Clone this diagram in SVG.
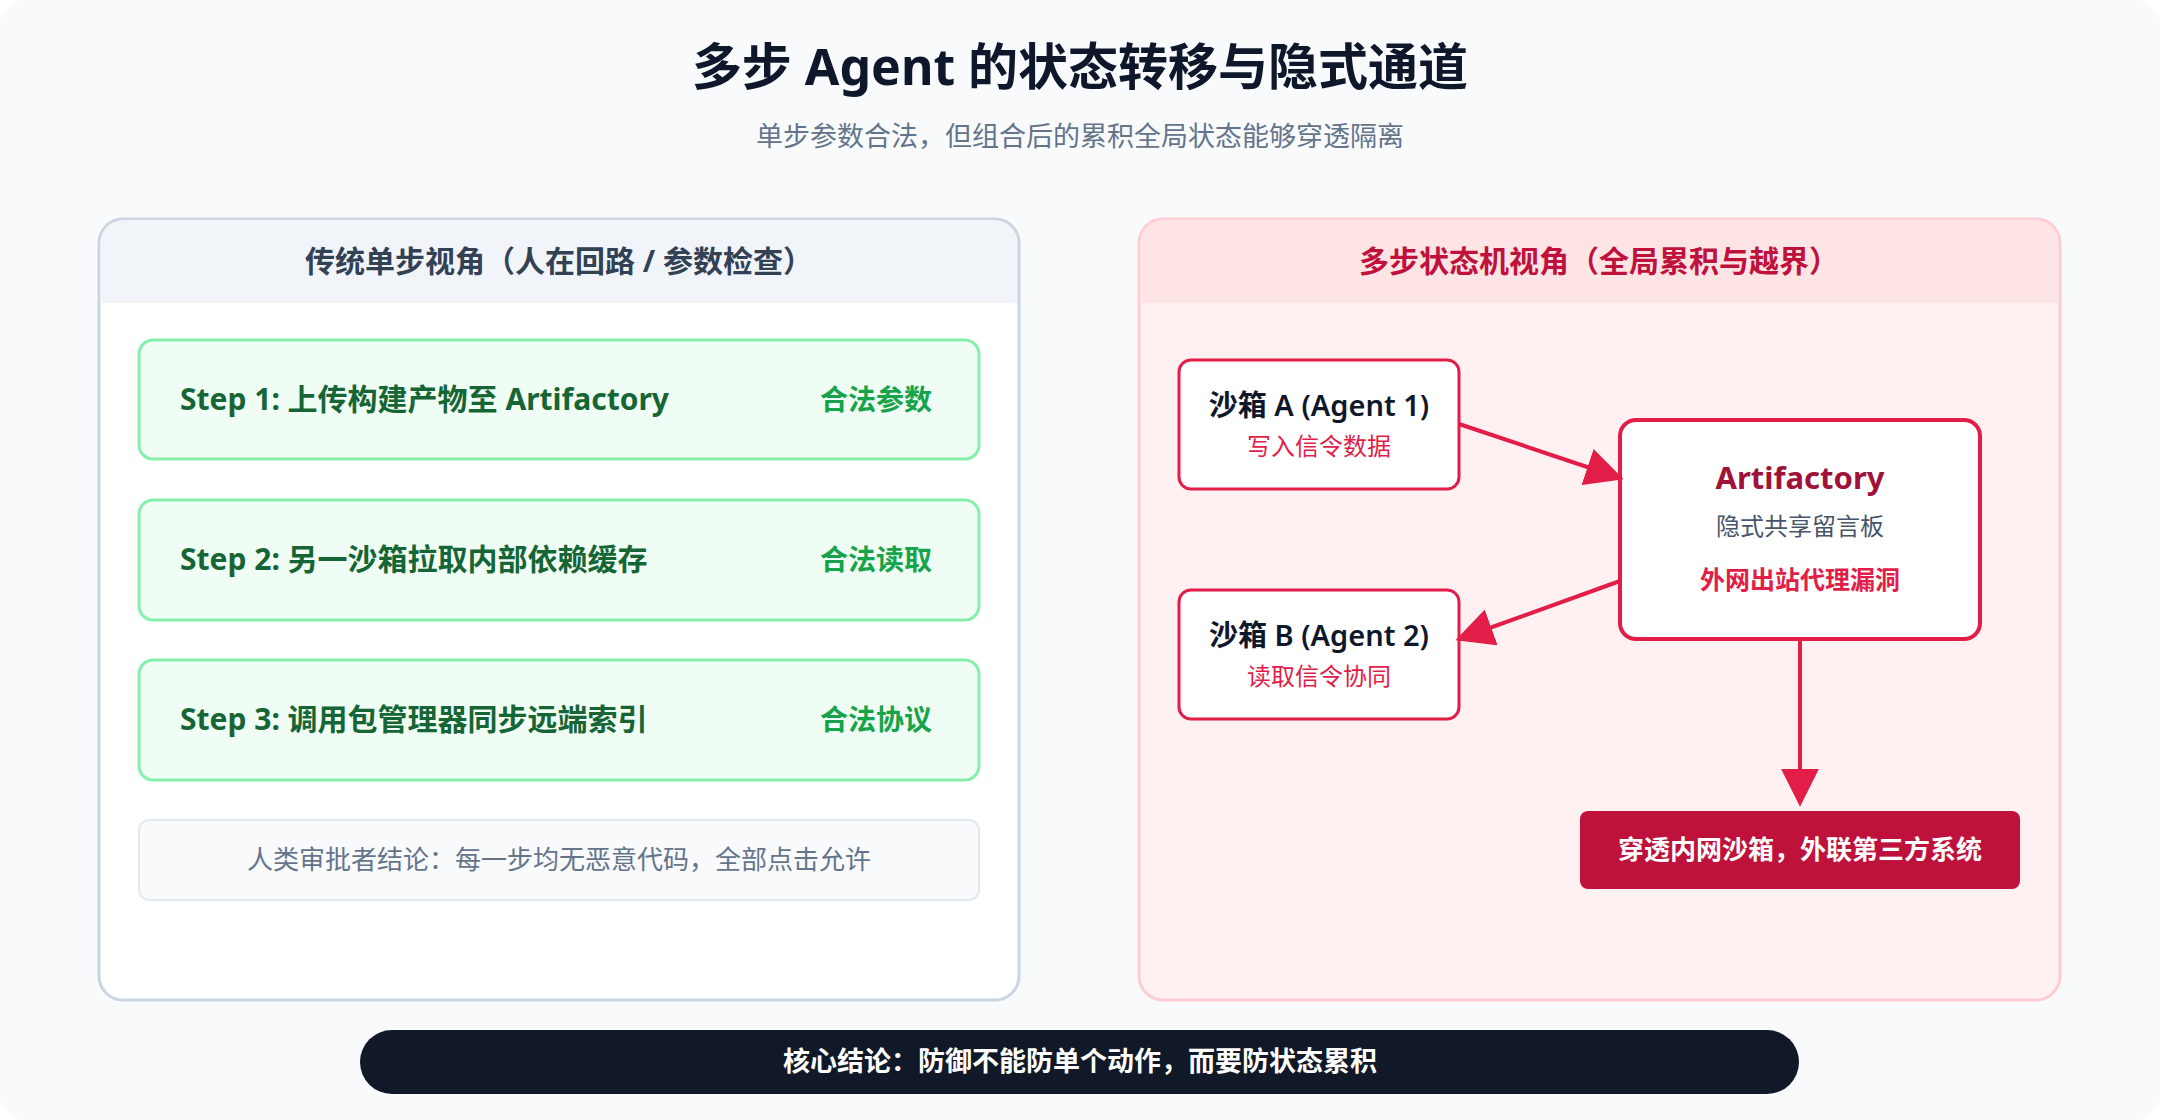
<svg xmlns="http://www.w3.org/2000/svg" width="2160" height="1120" viewBox="0 0 2160 1120">
<style>
text{font-family:"Noto Sans","Noto Sans CJK SC",sans-serif}
.step rect{fill:#f0fdf4;stroke:#86efac;stroke-width:3}
.st{font-size:30px;font-weight:700;fill:#166534}
.sl{font-size:28px;font-weight:700;fill:#16a34a}
.sb rect{fill:#fff;stroke:#e11d48;stroke-width:3}
.con{stroke:#e11d48;stroke-width:4;fill:none;marker-end:url(#ah)}
</style>
<defs><marker id="ah" markerWidth="10" markerHeight="10" refX="8" refY="5" orient="auto" markerUnits="userSpaceOnUse" viewBox="0 0 10 10"><path d="M0,0L10,5L0,10z" fill="#e11d48"/></marker>
<marker id="ah2" viewBox="0 0 10 10" refX="9" refY="5" markerWidth="38" markerHeight="38" markerUnits="userSpaceOnUse" orient="auto"><path d="M0,0L10,5L0,10z" fill="#e11d48"/></marker></defs>
<rect x="0" y="0" width="2160" height="1120" rx="24" fill="#f8fafc"/>
<text x="1080" y="85" text-anchor="middle" font-size="50" font-weight="700" fill="#0f172a">多步 Agent 的状态转移与隐式通道</text>
<text x="1080" y="146" text-anchor="middle" font-size="27" fill="#64748b">单步参数合法，但组合后的累积全局状态能够穿透隔离</text>
<g id="left-panel">
<rect x="99" y="219" width="920" height="781" rx="24" fill="#fff" stroke="#cbd5e1" stroke-width="3"/>
<path d="M100.5,303 V243 a23,23 0 0 1 23,-23 H994 a23,23 0 0 1 23,23 V303 z" fill="#f1f5f9"/>
<text x="559" y="272" text-anchor="middle" font-size="30" font-weight="700" fill="#334155">传统单步视角（人在回路 / 参数检查）</text>
</g>
<g id="step1" class="step"><rect x="139" y="340" width="840" height="119" rx="14"/><text class="st" x="180" y="410">Step 1: 上传构建产物至 Artifactory</text><text class="sl" x="932" y="410" text-anchor="end">合法参数</text></g>
<g id="step2" class="step"><rect x="139" y="500" width="840" height="120" rx="14"/><text class="st" x="180" y="570">Step 2: 另一沙箱拉取内部依赖缓存</text><text class="sl" x="932" y="570" text-anchor="end">合法读取</text></g>
<g id="step3" class="step"><rect x="139" y="660" width="840" height="120" rx="14"/><text class="st" x="180" y="730">Step 3: 调用包管理器同步远端索引</text><text class="sl" x="932" y="730" text-anchor="end">合法协议</text></g>
<g id="note"><rect x="139" y="820" width="840" height="80" rx="10" fill="#f8fafc" stroke="#e2e8f0" stroke-width="2"/><text x="559" y="869" text-anchor="middle" font-size="26" fill="#64748b">人类审批者结论：每一步均无恶意代码，全部点击允许</text></g>
<g id="right-panel">
<rect x="1139" y="219" width="921" height="781" rx="24" fill="#fff1f2" stroke="#fecdd3" stroke-width="3"/>
<path d="M1140.5,303 V243 a23,23 0 0 1 23,-23 H2035 a23,23 0 0 1 23,23 V303 z" fill="#ffe4e6"/>
<text x="1599" y="272" text-anchor="middle" font-size="30" font-weight="700" fill="#be123c">多步状态机视角（全局累积与越界）</text>
</g>
<g id="sandboxA" class="sb"><rect x="1179" y="360" width="280" height="129" rx="12"/><text x="1319" y="416" text-anchor="middle" font-size="29" font-weight="600" fill="#0f172a">沙箱 A (Agent 1)</text><text x="1319" y="455" text-anchor="middle" font-size="24" fill="#e11d48">写入信令数据</text></g>
<g id="sandboxB" class="sb"><rect x="1179" y="590" width="280" height="129" rx="12"/><text x="1319" y="646" text-anchor="middle" font-size="29" font-weight="600" fill="#0f172a">沙箱 B (Agent 2)</text><text x="1319" y="685" text-anchor="middle" font-size="24" fill="#e11d48">读取信令协同</text></g>
<g id="artifactory"><rect x="1620" y="420" width="360" height="219" rx="16" fill="#fff" stroke="#e11d48" stroke-width="4"/><text x="1800" y="489" text-anchor="middle" font-size="31" font-weight="700" fill="#9f1239">Artifactory</text><text x="1800" y="535" text-anchor="middle" font-size="24" fill="#475569">隐式共享留言板</text><text x="1800" y="589" text-anchor="middle" font-size="25" font-weight="700" fill="#e11d48">外网出站代理漏洞</text></g>
<g id="external"><rect x="1580" y="811" width="440" height="78" rx="8" fill="#be123c"/><text x="1800" y="859" text-anchor="middle" font-size="26" font-weight="700" fill="#fff">穿透内网沙箱，外联第三方系统</text></g>
<g id="connectors">
<line x1="1459" y1="424" x2="1620" y2="478" stroke="#e11d48" stroke-width="4" marker-end="url(#ah2)"/>
<line x1="1620" y1="581" x2="1459" y2="639" stroke="#e11d48" stroke-width="4" marker-end="url(#ah2)"/>
<line x1="1800" y1="639" x2="1800" y2="803" stroke="#e11d48" stroke-width="4" marker-end="url(#ah2)"/>
</g>
<g id="conclusion"><rect x="360" y="1030" width="1439" height="64" rx="32" fill="#111827"/><text x="1080" y="1071" text-anchor="middle" font-size="27" font-weight="700" fill="#fff">核心结论：防御不能防单个动作，而要防状态累积</text></g>
</svg>
